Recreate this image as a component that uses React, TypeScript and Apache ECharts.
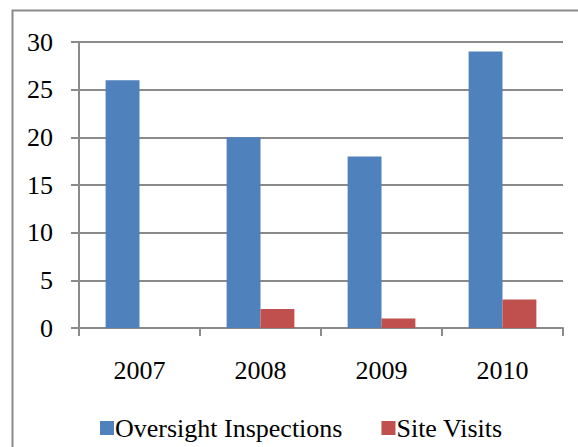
import React, { useEffect, useRef } from "react";
import * as echarts from "echarts";

const categories = ["2007", "2008", "2009", "2010"];
const oversightInspections = [26, 20, 18, 29];
const siteVisits = [0, 2, 1, 3];
const seriesNames = ["Oversight Inspections", "Site Visits"];

const FONT = "Liberation Serif";

export default function App() {
  const ref = useRef<HTMLDivElement>(null);
  useEffect(() => {
    if (!ref.current) return;
    const chart = echarts.init(ref.current, null, { renderer: "svg" });
    chart.setOption({
      animation: false,
      backgroundColor: "#ffffff",
      graphic: [
        {
          type: "rect",
          shape: { x: 12.5, y: 10.5, width: 600, height: 500 },
          style: { fill: "none", stroke: "#8a8a8a", lineWidth: 2 },
          silent: true,
          z: -1,
        },
      ],
      grid: { left: 79, right: 15, top: 42, bottom: 119, containLabel: false },
      legend: {
        left: 95,
        top: 410,
        itemWidth: 14,
        itemHeight: 14,
        itemGap: 39,
        icon: "rect",
        textStyle: { fontFamily: FONT, fontSize: 26, color: "#000", padding: [0, 0, 0, -4] },
        data: seriesNames,
      },
      xAxis: {
        type: "category",
        data: categories,
        axisLine: { show: true, lineStyle: { color: "#8a8a8a", width: 2 } },
        axisTick: { show: true, length: 8, lineStyle: { color: "#8a8a8a", width: 2 } },
        axisLabel: { fontFamily: FONT, fontSize: 26, color: "#000", margin: 29 },
      },
      yAxis: {
        type: "value",
        min: 0,
        max: 30,
        interval: 5,
        axisLine: { show: true, lineStyle: { color: "#8a8a8a", width: 2 } },
        axisTick: { show: true, length: 8, lineStyle: { color: "#8a8a8a", width: 2 } },
        splitLine: { show: true, lineStyle: { color: "#8a8a8a", width: 2 } },
        axisLabel: { fontFamily: FONT, fontSize: 26, color: "#000", margin: 26 },
      },
      series: [
        {
          name: seriesNames[0],
          type: "bar",
          data: oversightInspections,
          barWidth: "28%",
          barGap: "0%",
          itemStyle: { color: "#4F81BD" },
        },
        {
          name: seriesNames[1],
          type: "bar",
          data: siteVisits,
          barWidth: "28%",
          barGap: "0%",
          itemStyle: { color: "#C0504D" },
        },
      ],
    });
    return () => chart.dispose();
  }, []);
  return (
    <div
      ref={ref}
      style={{ position: "fixed", left: 0, top: 0, width: 578, height: 447 }}
    />
  );
}
